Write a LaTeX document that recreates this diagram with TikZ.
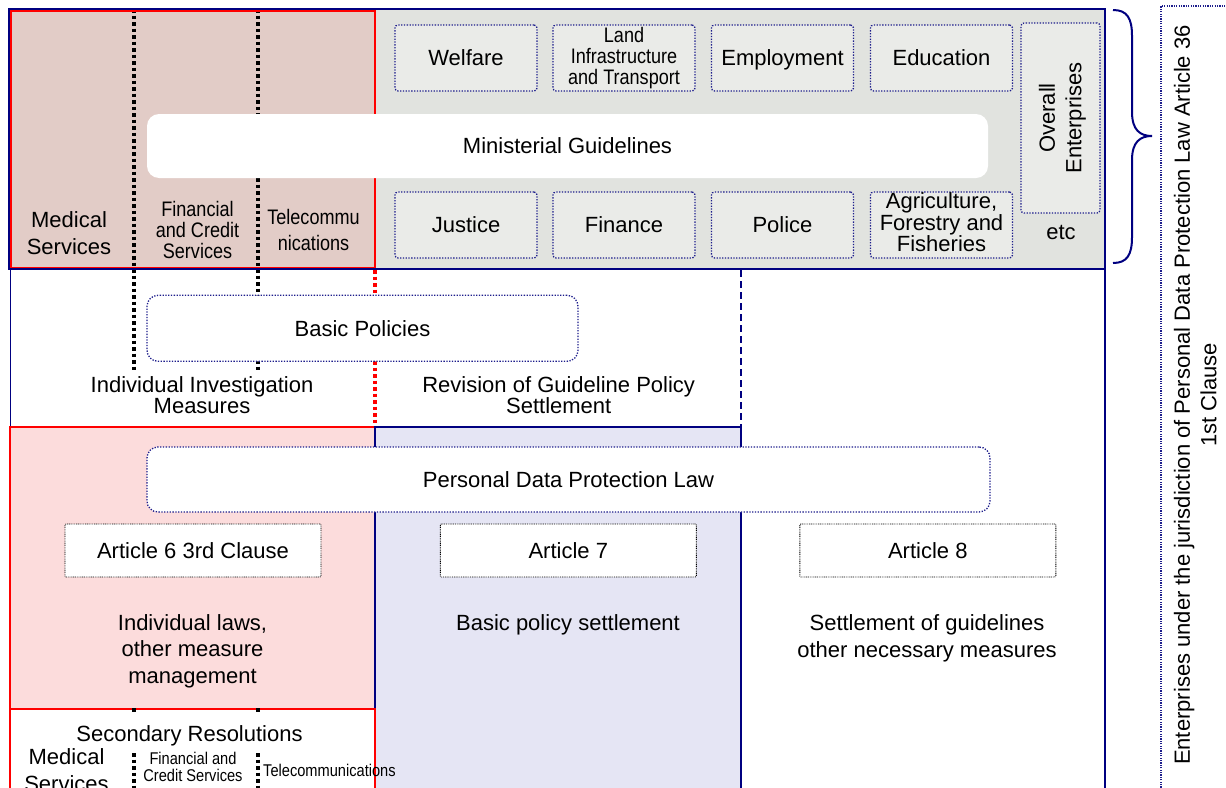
\documentclass[tikz,border=0pt]{standalone}
\usepackage{fontspec}
\setmainfont{Liberation Sans}
\newfontfamily\narrowfont[FakeStretch=0.86]{Liberation Sans}
\definecolor{navy}{RGB}{0,0,128}
\definecolor{dotblue}{RGB}{30,30,140}
\definecolor{topgray}{RGB}{225,227,223}
\definecolor{boxgray}{RGB}{234,235,232}
\definecolor{toppink}{RGB}{226,204,199}
\definecolor{botpink}{RGB}{252,220,220}
\definecolor{lav}{RGB}{229,229,244}
\begin{document}
\begin{tikzpicture}[x=1pt,y=-1pt,
  txt/.style={inner sep=0pt, align=center, font=\fontsize{22}{26.6}\selectfont},
  tightxt/.style={inner sep=0pt, align=center, font=\fontsize{22}{21.7}\selectfont},
  ntxt/.style={inner sep=0pt, align=center, font=\narrowfont\fontsize{21}{20.8}\selectfont},
  stxt/.style={inner sep=0pt, align=center, font=\narrowfont\fontsize{17}{16.7}\selectfont},
  onel/.style={text height=15.8pt, text depth=0pt},
  minibox/.style={draw=dotblue, line width=1.3pt, dash pattern=on 1.3pt off 1.5pt, rounded corners=3pt, fill=boxgray, inner sep=0pt, minimum width=142pt, minimum height=66pt},
  roundbox/.style={draw=dotblue, line width=1.3pt, dash pattern=on 1.3pt off 1.5pt, rounded corners=11pt, fill=white, inner sep=0pt},
  artbox/.style={draw=black, line width=0.9pt, dash pattern=on 0.9pt off 0.9pt, rounded corners=1pt, fill=white, inner sep=0pt, minimum width=256pt, minimum height=53pt},
  blackdots/.style={black, line width=3.5pt, dash pattern=on 3.5pt off 3pt},
  reddots/.style={red, line width=3.3pt, dash pattern=on 3.5pt off 3pt},
  bluedash/.style={navy, line width=1.3pt, dash pattern=on 7pt off 4pt},
  redline/.style={red, line width=1.5pt},
  blueline/.style={navy, line width=1.5pt}
]
\useasboundingbox (0,0) rectangle (1226,787);
\fill[white] (0,0) rectangle (1226,787);

% fills
\fill[toppink] (10,10) rectangle (375,269);
\fill[topgray] (375,10) rectangle (1105,269);
\fill[botpink] (10,427) rectangle (375,709);
\fill[lav] (375,427) rectangle (741,790);

% dotted / dashed separators
\coordinate (d1t) at (134,9);   \coordinate (d1b) at (134,373);
\coordinate (d2t) at (258,9);   \coordinate (d2b) at (258,373);
\coordinate (d3t) at (134,708); \coordinate (d3b) at (134,713);
\coordinate (d4t) at (258,708); \coordinate (d4b) at (258,713);
\coordinate (d5t) at (134,753); \coordinate (d5b) at (134,790);
\coordinate (d6t) at (258,753); \coordinate (d6b) at (258,790);
\coordinate (rdt) at (375,270); \coordinate (rdb) at (375,427);
\coordinate (bdt) at (741,270); \coordinate (bdb) at (741,427);
\draw[blackdots] (d1t) -- (d1b);
\draw[blackdots] (d2t) -- (d2b);
\draw[reddots] (rdt) -- (rdb);
\draw[bluedash] (bdt) -- (bdb);

% borders
\draw[redline] (11,11) rectangle (375,268);
\draw[navy, line width=2pt] (9,9) rectangle (1105,269);
\draw[navy, line width=1pt] (10,269) -- (10,427);
\draw[navy, line width=2pt] (1105,269) -- (1105,790);
\draw[redline] (10,427) rectangle (375,709);
\draw[blueline] (375,790) -- (375,427) -- (741,427) -- (741,790);
\fill[white] (10,709) rectangle (375,790);
\draw[redline] (10,790) -- (10,709) -- (375,709) -- (375,790);
\draw[blackdots] (d3t) -- (d3b);
\draw[blackdots] (d4t) -- (d4b);
\draw[blackdots] (d5t) -- (d5b);
\draw[blackdots] (d6t) -- (d6b);

% ministries
\node[minibox, txt, onel] (welfare) at (466,58) {Welfare};
\node[minibox, ntxt] (land) at (624,58) {Land\\Infrastructure\\and Transport};
\node[minibox, txt, onel] (employ) at (782.5,58) {Employment};
\node[minibox, txt, onel] (educ) at (941.5,58) {Education};
\node[minibox, txt, onel] (justice) at (466,225) {Justice};
\node[minibox, txt, onel] (finance) at (624,225) {Finance};
\node[minibox, txt, onel] (police) at (782.5,225) {Police};
\node[minibox, inner sep=0pt, align=center, font=\fontsize{22}{20.5}\selectfont] (agri) at (941.5,225) {Agriculture,\\Forestry and\\Fisheries\rule[-5pt]{0pt}{5pt}};
\node[minibox, minimum width=79pt, minimum height=190pt] (overall) at (1060.5,118) {};
\node[txt, rotate=90] (overallt) at (1062.4,118) {Overall\\Enterprises};
\node[txt, anchor=base] (etc) at (1061,239.3) {etc};

\node[fill=white, rounded corners=12pt, minimum width=841pt, minimum height=64pt, txt, onel] (mg) at (567.5,146) {Ministerial Guidelines};

% sectors (top)
\node[txt] (med1) at (69,233.1) {Medical\\Services};
\node[ntxt] (fin1) at (197.5,230) {Financial\\and Credit\\Services};
\node[inner sep=0pt, align=center, font=\narrowfont\fontsize{21}{26.7}\selectfont] (tel1) at (313.5,229.9) {Telecommu\\nications};

% middle
\node[roundbox, txt, onel, minimum width=431pt, minimum height=66pt] (basic) at (362.5,328.3) {Basic Policies};
\node[tightxt] (indiv) at (202,395.2) {Individual Investigation\\Measures};
\node[tightxt] (revis) at (558.7,395.2) {Revision of Guideline Policy\\Settlement};

\node[roundbox, txt, onel, minimum width=843pt, minimum height=65pt] (pdpl) at (568.5,479.5) {Personal Data Protection Law};
\node[artbox, txt, onel] (art6) at (193,550.5) {Article 6 3rd Clause};
\node[artbox, txt, onel] (art7) at (568.3,550.5) {Article 7};
\node[artbox, txt, onel] (art8) at (927.8,550.5) {Article 8};

\node[txt] (laws) at (192.5,651) {Individual laws,\\other measure\\management};
\node[txt, anchor=base] (bps) at (568,630.7) {Basic policy settlement};
\node[txt] (sog) at (927,638.2) {Settlement of guidelines\\other necessary measures};

% bottom
\node[txt, anchor=base] (sec) at (189.5,741.7) {Secondary Resolutions};
\node[txt] (med2) at (66.5,770.1) {Medical\\Services};
\node[stxt] (fin2) at (193,767.2) {Financial and\\Credit Services};
\node[stxt, anchor=base west] (tel2) at (263,776.7) {Telecommunications};

% brace and right box
\draw[navy, line width=2pt] (1113,10) .. controls (1127,10) and (1132,18) .. (1132,36) -- (1132,112) .. controls (1132,130) and (1140,136) .. (1152,136) .. controls (1140,136) and (1132,142) .. (1132,160) -- (1132,237) .. controls (1132,255) and (1127,263) .. (1113,263);
\draw[dotblue, line width=1.2pt, dash pattern=on 1.2pt off 1.2pt] (1161,790) -- (1161,6) -- (1230,6);
\node[txt, rotate=90] (art36) at (1195.3,395) {Enterprises under the jurisdiction of Personal Data Protection Law Article 36\\1st Clause};
\end{tikzpicture}
\end{document}
